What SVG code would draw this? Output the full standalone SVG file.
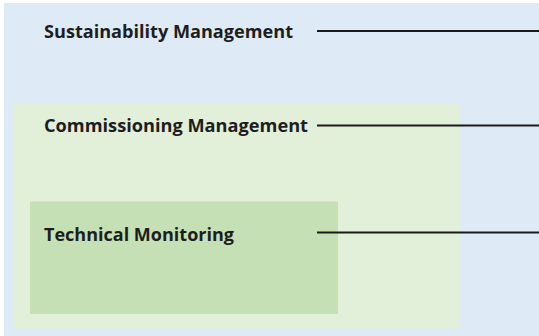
<svg xmlns="http://www.w3.org/2000/svg" width="539" height="336" viewBox="0 0 539 336">
<style>
.lbl{font-family:"Open Sans","Noto Sans","Liberation Sans",sans-serif;font-weight:bold;font-size:18px;fill:#1e1e1e}
.con{stroke:#1a1a1a;stroke-width:2;fill:none}
</style>
<rect x="0" y="0" width="539" height="336" fill="#ffffff"/>
<g id="sustainability">
<rect x="4" y="3" width="535" height="333" fill="#deeaf6"/>
<text class="lbl" x="44" y="38" textLength="249" lengthAdjust="spacingAndGlyphs">Sustainability Management</text>
</g>
<g id="commissioning">
<rect x="13" y="103.5" width="446.5" height="225" fill="#e2efd9"/>
<text class="lbl" x="44" y="131.5" textLength="264" lengthAdjust="spacingAndGlyphs">Commissioning Management</text>
</g>
<g id="technical">
<rect x="30" y="201.5" width="308" height="112.5" fill="#c5e0b4"/>
<text class="lbl" x="44" y="240.5" textLength="190" lengthAdjust="spacingAndGlyphs">Technical Monitoring</text>
</g>
<g id="connectors">
<line class="con" x1="317" y1="31" x2="539" y2="31"/>
<line class="con" x1="317" y1="125.5" x2="539" y2="125.5"/>
<line class="con" x1="317" y1="232.5" x2="539" y2="232.5"/>
</g>
</svg>
